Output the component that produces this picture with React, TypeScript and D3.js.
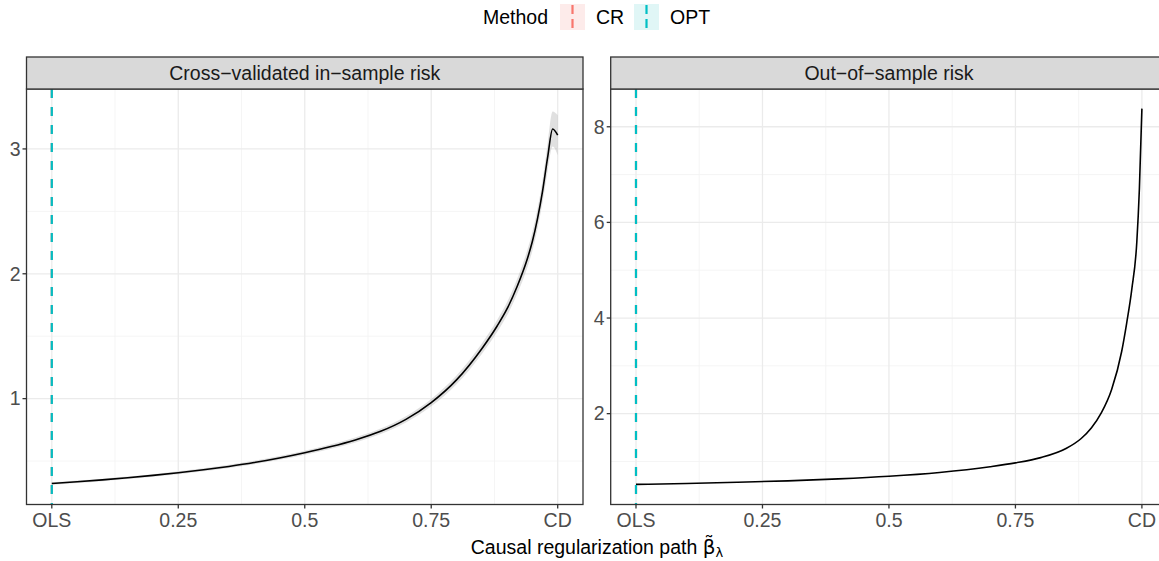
import React from "react";
import * as d3 from "d3";

const xTickValues = [0, 0.25, 0.5, 0.75, 1];
const xTickLabels = ["OLS", "0.25", "0.5", "0.75", "CD"];
const xMinor = [0.125, 0.375, 0.625, 0.875];

const leftT = [0, 0.05, 0.1, 0.15, 0.2, 0.25, 0.3, 0.35, 0.4, 0.45, 0.5, 0.55, 0.6, 0.65, 0.7, 0.75, 0.8, 0.85, 0.88, 0.9, 0.92, 0.94, 0.95, 0.96, 0.97, 0.98, 0.99, 1];
const leftRisk = [0.32, 0.334, 0.349, 0.366, 0.385, 0.406, 0.43, 0.457, 0.488, 0.525, 0.567, 0.614, 0.669, 0.738, 0.834, 0.968, 1.15, 1.4, 1.58, 1.72, 1.9, 2.12, 2.26, 2.44, 2.66, 2.93, 3.16, 3.11];
const leftSE = [0.01, 0.01, 0.01, 0.01, 0.01, 0.012, 0.012, 0.013, 0.014, 0.015, 0.016, 0.018, 0.02, 0.022, 0.025, 0.03, 0.035, 0.042, 0.048, 0.053, 0.06, 0.07, 0.075, 0.08, 0.09, 0.11, 0.14, 0.16];

const rightT = [0, 0.1, 0.2, 0.3, 0.4, 0.5, 0.6, 0.7, 0.75, 0.8, 0.85, 0.88, 0.9, 0.92, 0.94, 0.96, 0.97, 0.98, 0.99, 0.995, 1];
const rightRisk = [0.52, 0.54, 0.565, 0.595, 0.635, 0.69, 0.77, 0.89, 0.97, 1.08, 1.27, 1.48, 1.7, 2.02, 2.5, 3.3, 3.9, 4.6, 5.6, 6.7, 8.38];

const leftYMajor = [1, 2, 3];
const leftYMinor = [0.5, 1.5, 2.5];
const rightYMajor = [2, 4, 6, 8];
const rightYMinor = [1, 3, 5, 7];

const methods = ["CR", "OPT"];
const methodColors = ["#F8766D", "#00BFC4"];
const methodX = [0, 0];

const FONT = "Liberation Sans, Arial, Helvetica, sans-serif";
const FS = 19.5;

type PanelProps = {
  x0: number; x1: number; title: string;
  yDomain: [number, number]; yMajor: number[]; yMinor: number[];
  t: number[]; risk: number[]; se?: number[]; clipId: string;
};

const TOP = 89, BOTTOM = 504.5, STRIP_TOP = 57;

function Panel({ x0, x1, title, yDomain, yMajor, yMinor, t, risk, se, clipId }: PanelProps) {
  const pad = (x1 - x0) / 1.1 * 0.05;
  const x = d3.scaleLinear().domain([0, 1]).range([x0 + pad, x1 - pad]);
  const y = d3.scaleLinear().domain(yDomain).range([BOTTOM, TOP]);
  const pts = t.map((v, i) => ({ t: v, r: risk[i], s: se ? se[i] : 0 }));
  const line = d3.line<any>().x(d => x(d.t)).y(d => y(d.r)).curve(d3.curveMonotoneX);
  const area = d3.area<any>().x(d => x(d.t)).y0(d => y(d.r - d.s)).y1(d => y(d.r + d.s)).curve(d3.curveMonotoneX);
  return (
    <g>
      <defs>
        <clipPath id={clipId}><rect x={x0} y={TOP} width={x1 - x0} height={BOTTOM - TOP} /></clipPath>
      </defs>
      <rect x={x0} y={TOP} width={x1 - x0} height={BOTTOM - TOP} fill="white" />
      <g clipPath={`url(#${clipId})`}>
        {yMinor.map(v => <line key={"ym" + v} x1={x0} x2={x1} y1={y(v)} y2={y(v)} stroke="#F2F2F2" strokeWidth={0.8} />)}
        {xMinor.map(v => <line key={"xm" + v} x1={x(v)} x2={x(v)} y1={TOP} y2={BOTTOM} stroke="#F2F2F2" strokeWidth={0.8} />)}
        {yMajor.map(v => <line key={"yM" + v} x1={x0} x2={x1} y1={y(v)} y2={y(v)} stroke="#EBEBEB" strokeWidth={1.3} />)}
        {xTickValues.map(v => <line key={"xM" + v} x1={x(v)} x2={x(v)} y1={TOP} y2={BOTTOM} stroke="#EBEBEB" strokeWidth={1.3} />)}
        {se && <path d={area(pts) || ""} fill="#999999" opacity={0.3} />}
        <path d={line(pts) || ""} fill="none" stroke="black" strokeWidth={1.6} />
        {methods.map((m, i) => (
          <line key={m} x1={x(methodX[i])} x2={x(methodX[i])} y1={TOP} y2={BOTTOM}
            stroke={methodColors[i]} strokeWidth={2.2} strokeDasharray="9 9" />
        ))}
      </g>
      <rect x={x0} y={TOP} width={x1 - x0} height={BOTTOM - TOP} fill="none" stroke="#333333" strokeWidth={1.3} />
      <rect x={x0} y={STRIP_TOP} width={x1 - x0} height={TOP - STRIP_TOP} fill="#D9D9D9" stroke="#333333" strokeWidth={1.3} />
      <text x={(x0 + x1) / 2} y={(STRIP_TOP + TOP) / 2} dy="0.35em" textAnchor="middle" fontSize={FS} fill="#1A1A1A" fontFamily={FONT}>{title}</text>
      {yMajor.map(v => (
        <g key={"yt" + v}>
          <line x1={x0 - 4} x2={x0} y1={y(v)} y2={y(v)} stroke="#333333" strokeWidth={1.3} />
          <text x={x0 - 6} y={y(v)} dy="0.35em" textAnchor="end" fontSize={FS} fill="#4D4D4D" fontFamily={FONT}>{v}</text>
        </g>
      ))}
      {xTickValues.map((v, i) => (
        <g key={"xt" + v}>
          <line x1={x(v)} x2={x(v)} y1={BOTTOM} y2={BOTTOM + 4} stroke="#333333" strokeWidth={1.3} />
          <text x={x(v)} y={BOTTOM + 7} dy="0.8em" textAnchor="middle" fontSize={FS} fill="#4D4D4D" fontFamily={FONT}>{xTickLabels[i]}</text>
        </g>
      ))}
    </g>
  );
}

export default function App() {
  const legendItems = [
    { label: methods[0], color: methodColors[0], bg: "#FDEBEA", boxX: 560, textX: 596 },
    { label: methods[1], color: methodColors[1], bg: "#E0F6F6", boxX: 634, textX: 670 },
  ];
  return (
    <svg width={1159} height={561} style={{ position: "absolute", left: 0, top: 0, background: "white" }} fontFamily={FONT}>
      <rect width={1159} height={561} fill="white" />
      <text x={483} y={17} dy="0.35em" fontSize={FS} fill="#000">Method</text>
      {legendItems.map(it => (
        <g key={it.label}>
          <rect x={it.boxX} y={4} width={25} height={26} fill={it.bg} />
          <line x1={it.boxX + 12.5} x2={it.boxX + 12.5} y1={5} y2={29} stroke={it.color} strokeWidth={2.2} strokeDasharray="9 5" />
          <text x={it.textX} y={17} dy="0.35em" fontSize={FS} fill="#000">{it.label}</text>
        </g>
      ))}
      <Panel x0={26.5} x1={583} title="Cross−validated in−sample risk" yDomain={[0.152, 3.48]}
        yMajor={leftYMajor} yMinor={leftYMinor} t={leftT} risk={leftRisk} se={leftSE} clipId="clipL" />
      <Panel x0={610.7} x1={1167.2} title="Out−of−sample risk" yDomain={[0.1, 8.79]}
        yMajor={rightYMajor} yMinor={rightYMinor} t={rightT} risk={rightRisk} clipId="clipR" />
      <text x={597} y={554} textAnchor="middle" fontSize={FS} fill="#000">
        Causal regularization path <tspan fontFamily="DejaVu Sans" fontSize={20}>β̃</tspan>
        <tspan fontSize={13} dy="3" fontFamily="DejaVu Sans">λ</tspan>
      </text>
    </svg>
  );
}
